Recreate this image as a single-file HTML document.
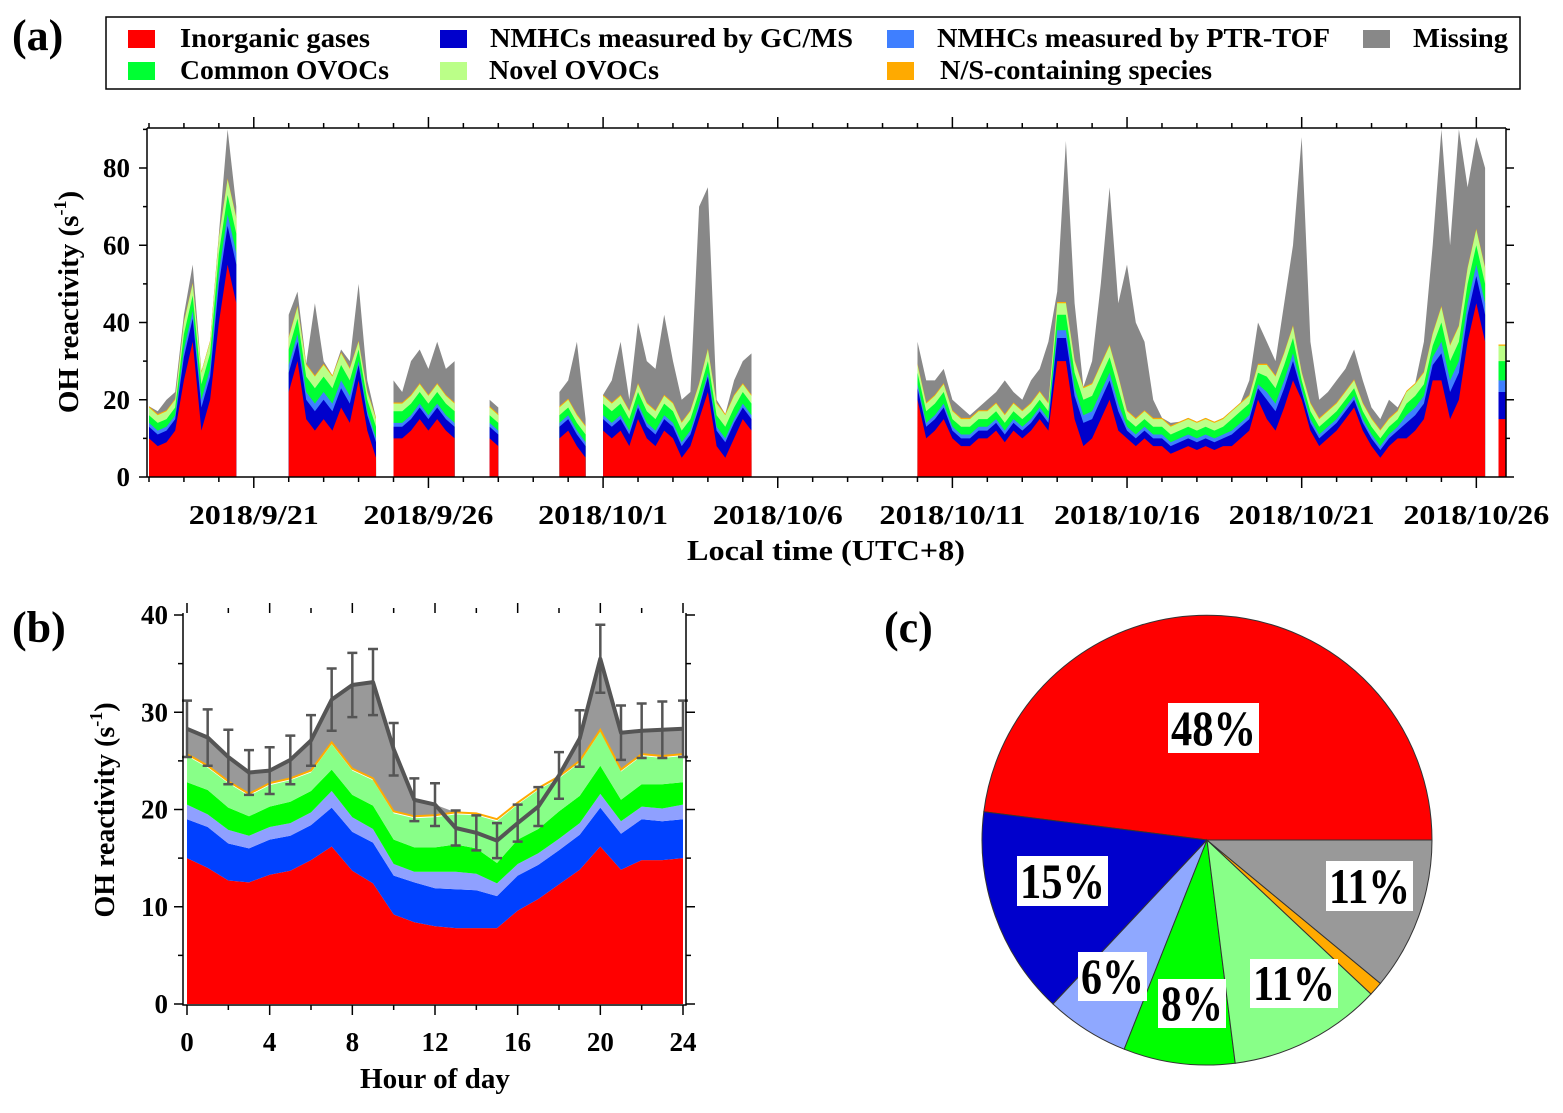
<!DOCTYPE html>
<html><head><meta charset="utf-8"><style>
html,body{margin:0;padding:0;background:#fff}
svg text{font-family:"Liberation Serif","Times New Roman",serif;font-weight:bold;fill:#000}
</style></head><body>
<svg id="svg" width="1563" height="1108" viewBox="0 0 1563 1108" xmlns="http://www.w3.org/2000/svg">
<text x="12" y="50" font-size="44">(a)</text>
<text x="12" y="642" font-size="44">(b)</text>
<text x="884" y="642" font-size="44">(c)</text>
<g>
<rect x="106" y="17" width="1414" height="72" fill="#fff" stroke="#000" stroke-width="1.5"/>
<g><rect x="128" y="30" width="27" height="18" fill="#ff0000"/><text x="180" y="47" font-size="27" textLength="190" lengthAdjust="spacingAndGlyphs">Inorganic gases</text></g>
<g><rect x="440" y="30" width="27" height="18" fill="#0000cc"/><text x="490" y="47" font-size="27" textLength="363" lengthAdjust="spacingAndGlyphs">NMHCs measured by GC/MS</text></g>
<g><rect x="887" y="30" width="27" height="18" fill="#3f7fff"/><text x="937" y="47" font-size="27" textLength="393" lengthAdjust="spacingAndGlyphs">NMHCs measured by PTR-TOF</text></g>
<g><rect x="1363" y="30" width="27" height="18" fill="#888888"/><text x="1413" y="47" font-size="27" textLength="95" lengthAdjust="spacingAndGlyphs">Missing</text></g>
<g><rect x="128" y="62" width="27" height="18" fill="#00ff33"/><text x="180" y="79" font-size="27" textLength="209" lengthAdjust="spacingAndGlyphs">Common OVOCs</text></g>
<g><rect x="440" y="62" width="27" height="18" fill="#bbff88"/><text x="489" y="79" font-size="27" textLength="170" lengthAdjust="spacingAndGlyphs">Novel OVOCs</text></g>
<g><rect x="887" y="62" width="27" height="18" fill="#ffaa00"/><text x="940" y="79" font-size="27" textLength="272" lengthAdjust="spacingAndGlyphs">N/S-containing species</text></g>
</g>
<g id="pa"></g>
<g id="pb"></g>
<g id="pc"></g>
</svg>
<script>
// ---------- Panel (a) data: 6-hourly from 2018/9/18 00:00 ----------
const aInorganic=[10,8,9,12, 25,35,12,20, 40,55,45,null, null,null,null,null, 22,30,15,12, 15,12,18,14, 25,12,5,null, 10,10,12,15, 12,15,12,10, null,null,null,10, 8,null,null,null, null,null,null,10, 12,8,5,null, 12,10,12,8, 15,10,8,12, 10,5,8,15, 22,8,5,10, 15,12,null,null, null,null,null,null, null,null,null,null, null,null,null,null, null,null,null,null, 20,10,12,15, 10,8,8,10, 10,12,9,12, 10,12,15,12, 30,30,15,8, 10,15,20,12, 10,8,10,8, 8,6,7,8, 7,8,7,8, 8,10,12,20, 15,12,18,25, 20,12,8,10, 12,15,18,12, 8,5,8,10, 10,12,15,25, 25,15,20,35, 45,35,null,15];
const aTotal=[18,17,20,22, 42,55,25,35, 63,90,70,null, null,null,null,null, 42,48,28,45, 30,25,33,30, 50,25,15,null, 25,22,30,33, 28,35,28,30, null,null,null,20, 18,null,null,null, null,null,null,22, 25,35,15,null, 20,25,35,20, 40,30,28,42, 30,20,22,70, 75,20,15,25, 30,32,null,null, null,null,null,null, null,null,null,null, null,null,null,null, null,null,null,null, 35,25,25,28, 20,18,16,18, 20,22,25,22, 20,25,28,35, 48,87,45,20, 30,50,75,45, 55,40,35,20, 15,14,13,15, 13,15,14,15, 14,18,25,40, 35,30,45,60, 88,35,20,22, 25,28,33,25, 18,15,20,18, 20,18,35,60, 90,60,90,75, 88,80,null,25];
// per-day component contributions (s-1)
const aGCMS=[3,6,10,0,5,5,4,3,3,3,3,3,3,3,3,3,4,3,0,0,0,0,3,2,2,2,6,5,2,2,2,3,5,2,2,2,4,7,7];
const aPTR=[1,2,3,0,2,2,1,1,1,1,1,1,1,1,1,1,1,1,0,0,0,0,1,1,1,1,2,2,1,1,1,1,2,1,1,1,2,3,3];
const aCommon=[2,4,5,0,4,4,3,3,3,2,2,2,2,3,3,3,3,3,0,0,0,0,3,2,2,2,4,4,2,2,2,3,4,2,2,2,3,5,5];
const aNovel=[2,3,4,0,3,3,2,2,2,2,2,2,2,2,2,2,3,2,0,0,0,0,2,2,2,2,3,3,2,2,2,2,3,2,2,2,3,4,4];
const aNS=0.3;
const aDateLabels=["2018/9/21","2018/9/26","2018/10/1","2018/10/6","2018/10/11","2018/10/16","2018/10/21","2018/10/26"];
const aYTicks=[0,20,40,60,80];

// ---------- Panel (b) data: hourly 0..24 (cumulative stack tops) ----------
const bHours=[0,1,2,3,4,5,6,7,8,9,10,11,12,13,14,15,16,17,18,19,20,21,22,23,24];
const bInorganic=[15,14,12.7,12.5,13.3,13.7,14.8,16.2,13.7,12.4,9.2,8.4,8,7.8,7.8,7.8,9.6,10.8,12.3,13.8,16.2,13.8,14.8,14.8,15];
const bGCMSTop=[19,18.2,16.5,16,16.9,17.3,18.4,20.2,17.7,16.6,13.2,12.5,11.9,11.8,11.7,11.1,13.2,14.3,15.8,17.4,20.2,17.5,19,18.8,19];
const bPTRTop=[20.5,19.5,17.9,17.3,18.2,18.6,19.7,21.9,19.2,18,14.4,13.6,13.6,13.6,13.4,12.4,14.4,15.5,17,18.6,21.6,18.8,20.3,20.1,20.5];
const bCommonTop=[22.8,22,20.2,19.3,20.3,20.8,21.9,24.1,21.5,20.4,16.9,16.1,16.1,16.4,16,14.5,16.9,18,19.8,21.4,24.5,21,22.6,22.6,22.8];
const bNovelTop=[25.5,24.3,22.7,21.4,22.5,23,23.8,26.7,24,23,19.6,19.1,19.2,19.5,19.4,18.8,20.5,22,23.2,24.8,28,23.9,25.5,25.3,25.5];
const bNS=0.2;
const bTotal=[28.3,27.4,25.4,23.8,24,25.1,27.1,31.3,32.8,33.1,26.2,21,20.5,18.1,17.6,16.8,18.6,20.3,23.5,27.3,35.5,27.9,28.1,28.2,28.3];
const bError=[2.9,2.9,2.8,2.3,2.4,2.5,2.6,3.2,3.3,3.4,2.7,2.2,2.2,1.8,1.8,1.8,1.9,2,2.4,2.9,3.5,2.8,2.8,2.9,2.9];
const bXTicks=[0,4,8,12,16,20,24];
const bYTicks=[0,10,20,30,40];

// ---------- Panel (c) data ----------
const cLabels=["Inorganic gases","NMHCs GC/MS","NMHCs PTR-TOF","Common OVOCs","Novel OVOCs","N/S-containing","Missing"];
const cValues=[48,15,6,8,11,1,11];
const cShown=["48%","15%","6%","8%","11%","","11%"];
</script>
<script>
const NS='http://www.w3.org/2000/svg';
function mk(tag,attrs,parent){const e=document.createElementNS(NS,tag);for(const k in attrs)e.setAttribute(k,attrs[k]);parent.appendChild(e);return e;}

// ===== Panel a =====
(function(){
const g=document.getElementById('pa');
const X0=149,DAY=34.93,L=147,R=1506,T=128,B=477;
const xa=d=>X0+d*DAY, ya=v=>B-v*3.8625;
const cols=['#ff0000','#0000cc','#3f7fff','#00ff33','#bbff88','#ffaa00','#888888'];
const names=['area-inorganic','area-gcms','area-ptr','area-common-ovocs','area-novel-ovocs','area-ns-species','area-missing'];
const n=aInorganic.length;
const stacks=[];
for(let i=0;i<n;i++){
  if(aInorganic[i]===null){stacks.push(null);continue;}
  const d=Math.floor(i/4);
  const comps=[aInorganic[i],aGCMS[d],aPTR[d],aCommon[d],aNovel[d],aNS];
  const tops=[];let s=0;for(const c of comps){s+=c;tops.push(s);}
  tops.push(Math.max(aTotal[i],s));
  stacks.push(tops);
}
let segs=[],cur=[];
for(let i=0;i<n;i++){if(stacks[i]){cur.push(i);}else if(cur.length){segs.push(cur);cur=[];}}
if(cur.length)segs.push(cur);
const clip=mk('clipPath',{id:'clipa'},g);mk('rect',{x:L,y:T,width:R-L,height:B-T},clip);
const area=mk('g',{'clip-path':'url(#clipa)'},g);
segs.forEach(seg=>{
  const pts=seg.length===1?[seg[0],seg[0]]:seg;
  const xs=seg.length===1?[xa(seg[0]/4)-4,xa(seg[0]/4)+4]:seg.map(i=>xa(i/4));
  for(let k=6;k>=0;k--){
    let p='M'+xs[0]+','+B;
    pts.forEach((i,j)=>{p+=' L'+xs[j].toFixed(1)+','+ya(stacks[i][k]).toFixed(1);});
    p+=' L'+xs[xs.length-1]+','+B+' Z';
    const e=mk('path',{d:p,fill:cols[k]},area);
    
    
  }
});
const ax=mk('path',{d:`M${L},${T} L${R},${T} M${L},${B} L${R},${B} M${L},${T} L${L},${B} M${R},${T} L${R},${B}`,stroke:'#000','stroke-width':1.5,fill:'none'},g);

for(let d=0;d<=38;d++){
  const x=xa(d),maj=(d-3)%5===0;
  mk('line',{x1:x,x2:x,y1:B,y2:B+(maj?11:5),stroke:'#000','stroke-width':1.5},g);
  mk('line',{x1:x,x2:x,y1:T,y2:T-(maj?11:5),stroke:'#000','stroke-width':1.5},g);
}
aDateLabels.forEach((s,k)=>{
  const t=mk('text',{x:xa(3+5*k),y:524,'font-size':27,'text-anchor':'middle',textLength:s.length>9?146:130,lengthAdjust:'spacingAndGlyphs'},g);t.textContent=s;
  
});
for(let v=0;v<=90;v+=10){
  const y=ya(v),maj=v%20===0;
  mk('line',{x1:L,x2:L-(maj?8:4),y1:y,y2:y,stroke:'#000','stroke-width':1.5},g);
  mk('line',{x1:R,x2:R+(maj?8:4),y1:y,y2:y,stroke:'#000','stroke-width':1.5},g);
}
aYTicks.forEach(v=>{
  const t=mk('text',{x:130,y:ya(v)+9,'font-size':27,'text-anchor':'end'},g);t.textContent=v;
  
});
const xt=mk('text',{x:826,y:560,'font-size':28,'text-anchor':'middle',textLength:278,lengthAdjust:'spacingAndGlyphs'},g);xt.textContent='Local time (UTC+8)';

const yt=mk('text',{x:0,y:0,'font-size':29,'text-anchor':'middle',transform:'translate(78,302) rotate(-90)'},g);
yt.innerHTML='OH reactivity (s<tspan dy="-12" font-size="18">-1</tspan><tspan dy="12">)</tspan>';

})();

// ===== Panel b =====
(function(){
const g=document.getElementById('pb');
const L=183,R=686,T=613,B=1005;
const xb=h=>187+h*(683-187)/24, yb=v=>1004-v*9.725;
const layers=[[null,bInorganic,'#ff0000','area-inorganic'],[bInorganic,bGCMSTop,'#0040ff','area-gcms'],[bGCMSTop,bPTRTop,'#8fa0ff','area-ptr'],[bPTRTop,bCommonTop,'#00ff00','area-common-ovocs'],[bCommonTop,bNovelTop,'#88ff88','area-novel-ovocs']];
function band(lo,hi,fill,name){
  let p='';
  bHours.forEach((h,i)=>{p+=(i?' L':'M')+xb(h).toFixed(1)+','+yb(hi[i]).toFixed(1);});
  for(let i=bHours.length-1;i>=0;i--){p+=' L'+xb(bHours[i]).toFixed(1)+','+(lo?yb(lo[i]):yb(0)).toFixed(1);}
  const e=mk('path',{d:p+' Z',fill:fill},g);
  
}
const mtop=bNovelTop.map(v=>v+bNS);
const gtop=bTotal.map((v,i)=>Math.max(v,mtop[i]));
band(mtop,gtop,'#999999','area-missing');
layers.forEach(l=>band(l[0],l[1],l[2],l[3]));
let op='';bHours.forEach((h,i)=>{op+=(i?' L':'M')+xb(h).toFixed(1)+','+yb(mtop[i]).toFixed(1);});
const ol=mk('path',{d:op,stroke:'#ffaa00','stroke-width':2,fill:'none'},g);

let tp='';bHours.forEach((h,i)=>{tp+=(i?' L':'M')+xb(h).toFixed(1)+','+yb(bTotal[i]).toFixed(1);});
const tl=mk('path',{d:tp,stroke:'#555','stroke-width':4,fill:'none','stroke-linejoin':'round'},g);

bHours.forEach((h,i)=>{
  const x=xb(h),y1=yb(bTotal[i]-bError[i]),y2=yb(bTotal[i]+bError[i]);
  const e=mk('path',{d:`M${x},${y1} L${x},${y2} M${x-5},${y1} L${x+5},${y1} M${x-5},${y2} L${x+5},${y2}`,stroke:'#555','stroke-width':2.5,fill:'none'},g);
  
});
const ax=mk('path',{d:`M${L},${T} L${L},${B} L${R},${B} L${R},${T}`,stroke:'#000','stroke-width':1.5,fill:'none'},g);

for(let h=0;h<=24;h+=2){const x=xb(h),maj=h%4===0;
  mk('line',{x1:x,x2:x,y1:B,y2:B+(maj?10:5),stroke:'#000','stroke-width':1.5},g);
  mk('line',{x1:x,x2:x,y1:T,y2:T-(maj?10:5),stroke:'#000','stroke-width':1.5},g);}
for(let v=0;v<=40;v+=5){const y=yb(v),maj=v%10===0;
  mk('line',{x1:L,x2:L-(maj?9:5),y1:y,y2:y,stroke:'#000','stroke-width':1.5},g);
  mk('line',{x1:R,x2:R+(maj?9:5),y1:y,y2:y,stroke:'#000','stroke-width':1.5},g);}
bXTicks.forEach(h=>{const t=mk('text',{x:xb(h),y:1051,'font-size':27,'text-anchor':'middle'},g);t.textContent=h;
  });
bYTicks.forEach(v=>{const t=mk('text',{x:168,y:yb(v)+9,'font-size':27,'text-anchor':'end'},g);t.textContent=v;
  });
const xt=mk('text',{x:435,y:1088,'font-size':28,'text-anchor':'middle',textLength:150,lengthAdjust:'spacingAndGlyphs'},g);xt.textContent='Hour of day';

const yt=mk('text',{x:0,y:0,'font-size':28,'text-anchor':'middle',transform:'translate(114,810) rotate(-90)'},g);
yt.innerHTML='OH reactivity (s<tspan dy="-12" font-size="18">-1</tspan><tspan dy="12">)</tspan>';

})();

// ===== Panel c =====
(function(){
const g=document.getElementById('pc');
const cx=1207,cy=840,r=225;
const cols=['#ff0000','#0000cc','#8fa8ff','#00ff00','#88ff88','#ffaa00','#999999'];
const names=['slice-inorganic','slice-gcms','slice-ptr','slice-common-ovocs','slice-novel-ovocs','slice-ns-species','slice-missing'];
const tot=cValues.reduce((a,b)=>a+b,0);
let a0=0;
cValues.forEach((v,i)=>{
  const a1=a0+v/tot*2*Math.PI;
  const p1=[cx+r*Math.cos(a0),cy-r*Math.sin(a0)],p2=[cx+r*Math.cos(a1),cy-r*Math.sin(a1)];
  const large=(a1-a0)>Math.PI?1:0;
  const e=mk('path',{d:`M${cx},${cy} L${p1[0].toFixed(1)},${p1[1].toFixed(1)} A${r},${r} 0 ${large} 0 ${p2[0].toFixed(1)},${p2[1].toFixed(1)} Z`,fill:cols[i],stroke:'#333','stroke-width':1},g);
  
  a0=a1;
});
// label boxes (layout positions, per slice)
const boxes=[[1168,703,91,50],[1017,856,91,50],[1078,952,69,49],[1158,979,68,49],[1250,959,88,49],null,[1326,861,87,50]];
cShown.forEach((s,i)=>{
  if(!s)return;
  const b=boxes[i];
  const bx=mk('rect',{x:b[0],y:b[1],width:b[2],height:b[3],fill:'#fff'},g);
  
  const t=mk('text',{x:b[0]+3,y:b[1]+b[3]-8,'font-size':50,textLength:b[2]-6,lengthAdjust:'spacingAndGlyphs'},g);t.textContent=s;
  
});
})();
</script>
</body></html>
